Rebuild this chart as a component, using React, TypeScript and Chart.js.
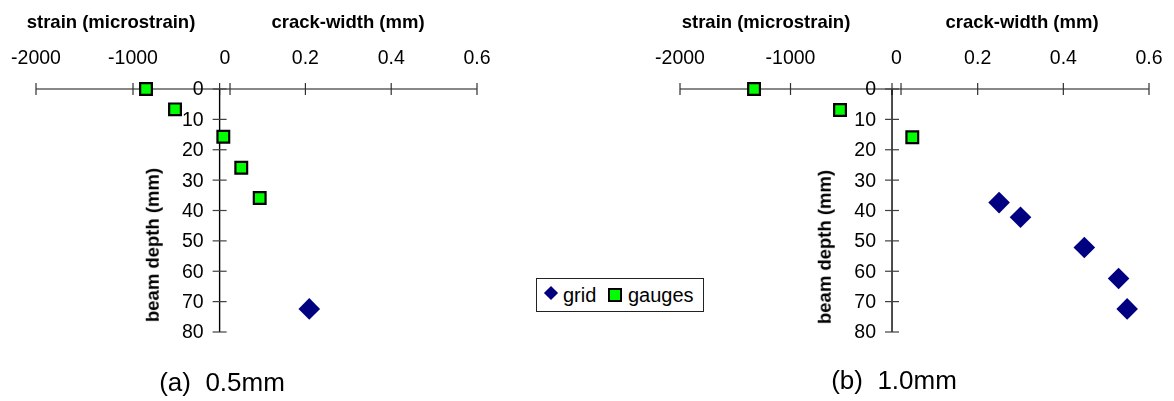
import React, { useEffect, useRef } from "react";
import { Chart, registerables } from "chart.js";

Chart.register(...registerables);

// ---- tick values ----
const depthTicks = [0, 10, 20, 30, 40, 50, 60, 70, 80];
const strainTicks = [-2000, -1000, 0];
const crackTicks = [0, 0.2, 0.4, 0.6];

// ---- panel (a) 0.5mm ----
const gaugeStrainA = [-866, -567, -69, 116, 306];
const gaugeDepthA = [0, 6.7, 15.7, 25.9, 35.9];
const gridCrackA = [0.209];
const gridDepthA = [72.4];
const strainRangeA = [-2000, 2546];
const crackRangeA = [-0.428, 0.6];

// ---- panel (b) 1.0mm ----
const gaugeStrainB = [-1330, -552, 102];
const gaugeDepthB = [0, 6.9, 15.9];
const gridCrackB = [0.25, 0.3, 0.449, 0.529, 0.549];
const gridDepthB = [37.4, 42.2, 52.2, 62.4, 72.4];
const strainRangeB = [-2000, 2244];
const crackRangeB = [-0.495, 0.6];

const depthRange = [0, 80];

const FONT = '"Liberation Sans", Arial, Helvetica, sans-serif';

const axesPlugin = {
  id: "crossAxes",
  beforeDatasetsDraw(chart: any) {
    const { ctx, chartArea } = chart;
    const sx = chart.scales.strain;
    const cx = chart.scales.crack;
    const ys = chart.scales.depth;
    const y0 = ys.getPixelForValue(0);
    const x0 = cx.getPixelForValue(0);
    const line = (a: number, b: number, c: number, d: number) => {
      ctx.beginPath();
      ctx.moveTo(a, b);
      ctx.lineTo(c, d);
      ctx.stroke();
    };
    ctx.save();
    // horizontal axis
    ctx.strokeStyle = "#606060";
    ctx.lineWidth = 1.3;
    line(chartArea.left, y0, chartArea.right, y0);
    ctx.strokeStyle = "#303030";
    ctx.lineWidth = 1.2;
    for (const v of strainTicks) {
      const p = sx.getPixelForValue(v);
      line(p, y0 - 6, p, y0 + 6);
    }
    for (const v of crackTicks) {
      const p = cx.getPixelForValue(v);
      line(p, y0 - 6, p, y0 + 6);
    }
    ctx.fillStyle = "#000";
    ctx.font = `19.5px ${FONT}`;
    ctx.textAlign = "center";
    ctx.textBaseline = "middle";
    for (const v of strainTicks) {
      if (v === 0) continue;
      ctx.fillText(String(v), sx.getPixelForValue(v), y0 - 30);
    }
    for (const v of crackTicks) {
      if (v === 0) continue;
      ctx.fillText(v.toFixed(1), cx.getPixelForValue(v), y0 - 30);
    }
    const zeroX = (sx.getPixelForValue(0) + cx.getPixelForValue(0)) / 2;
    ctx.fillText("0", zeroX, y0 - 30);

    // vertical axis
    ctx.strokeStyle = "#000";
    ctx.lineWidth = 1.4;
    line(x0, ys.getPixelForValue(depthRange[0]), x0, ys.getPixelForValue(depthRange[1]));
    ctx.strokeStyle = "#404040";
    ctx.lineWidth = 1.2;
    ctx.textAlign = "right";
    for (const v of depthTicks) {
      const p = ys.getPixelForValue(v);
      line(x0 - 7, p, x0 + 7, p);
      ctx.fillText(String(v), x0 - 16, p + 1);
    }
    ctx.restore();
  },
};

function makeConfig(
  gaugeStrain: number[],
  gaugeDepth: number[],
  gridCrack: number[],
  gridDepth: number[],
  strainRange: number[],
  crackRange: number[],
  padding: any
): any {
  return {
    type: "scatter",
    data: {
      datasets: [
        {
          label: "grid",
          data: gridCrack.map((x, i) => ({ x, y: gridDepth[i] })),
          xAxisID: "crack",
          yAxisID: "depth",
          pointStyle: "rectRot",
          pointRadius: 10.8,
          backgroundColor: "#000080",
          borderColor: "#000080",
          borderWidth: 0,
          clip: false,
        },
        {
          label: "gauges",
          data: gaugeStrain.map((x, i) => ({ x, y: gaugeDepth[i] })),
          xAxisID: "strain",
          yAxisID: "depth",
          pointStyle: "rect",
          pointRadius: 8.3,
          backgroundColor: "#00ff00",
          borderColor: "#000000",
          borderWidth: 2.2,
          clip: false,
        },
      ],
    },
    options: {
      animation: false,
      responsive: false,
      maintainAspectRatio: false,
      events: [],
      layout: { padding },
      plugins: { legend: { display: false }, tooltip: { enabled: false } },
      scales: {
        strain: { type: "linear", axis: "x", min: strainRange[0], max: strainRange[1], display: false },
        crack: { type: "linear", axis: "x", min: crackRange[0], max: crackRange[1], display: false },
        depth: { type: "linear", axis: "y", min: depthRange[0], max: depthRange[1], reverse: true, display: false },
      },
    },
    plugins: [axesPlugin],
  };
}

const textBase: React.CSSProperties = {
  position: "absolute",
  transform: "translate(-50%, -50%)",
  whiteSpace: "nowrap",
  fontFamily: FONT,
  lineHeight: 1,
  color: "#000",
};

function Label({ x, y, text, size, bold, rotate }: any) {
  return (
    <div
      style={{
        ...textBase,
        left: x,
        top: y,
        fontSize: size,
        fontWeight: bold ? "bold" : "normal",
        transform: `translate(-50%, -50%)${rotate ? " rotate(-90deg)" : ""}`,
      }}
    >
      {text}
    </div>
  );
}

export default function App() {
  const refA = useRef<HTMLCanvasElement>(null);
  const refB = useRef<HTMLCanvasElement>(null);

  useEffect(() => {
    const a = new Chart(
      refA.current as HTMLCanvasElement,
      makeConfig(gaugeStrainA, gaugeDepthA, gridCrackA, gridDepthA, strainRangeA, crackRangeA, {
        left: 36,
        right: 43,
        top: 89,
        bottom: 69,
      })
    );
    const b = new Chart(
      refB.current as HTMLCanvasElement,
      makeConfig(gaugeStrainB, gaugeDepthB, gridCrackB, gridDepthB, strainRangeB, crackRangeB, {
        left: 120,
        right: 25,
        top: 89,
        bottom: 69,
      })
    );
    return () => {
      a.destroy();
      b.destroy();
    };
  }, []);

  return (
    <div style={{ position: "absolute", left: 0, top: 0, width: 1174, height: 401, background: "#fff", overflow: "hidden" }}>
      <canvas ref={refA} width={520} height={401} style={{ position: "absolute", left: 0, top: 0, width: 520, height: 401 }} />
      <canvas ref={refB} width={614} height={401} style={{ position: "absolute", left: 560, top: 0, width: 614, height: 401 }} />

      <Label x={111} y={22} text="strain (microstrain)" size="18.5px" bold />
      <Label x={348} y={22} text="crack-width (mm)" size="18.5px" bold />
      <Label x={153} y={245} text="beam depth (mm)" size="18.5px" bold rotate />
      <Label x={222} y={382} text={"(a)\u00a0\u00a00.5mm"} size="26px" />

      <Label x={766} y={22} text="strain (microstrain)" size="18.5px" bold />
      <Label x={1022} y={22} text="crack-width (mm)" size="18.5px" bold />
      <Label x={825} y={247} text="beam depth (mm)" size="18.5px" bold rotate />
      <Label x={894} y={380} text={"(b)\u00a0\u00a01.0mm"} size="26px" />

      {/* legend */}
      <div
        style={{
          position: "absolute",
          left: 536,
          top: 278,
          width: 168,
          height: 34,
          boxSizing: "border-box",
          border: "1px solid #222",
          background: "#fff",
        }}
      >
        <div
          style={{
            position: "absolute",
            left: 9,
            top: 9,
            width: 10,
            height: 10,
            background: "#000080",
            transform: "rotate(45deg)",
          }}
        />
        <div style={{ position: "absolute", left: 26, top: 6, fontFamily: FONT, fontSize: "20px", lineHeight: 1 }}>grid</div>
        <div
          style={{
            position: "absolute",
            left: 71,
            top: 9,
            width: 14,
            height: 14,
            boxSizing: "border-box",
            background: "#00ff00",
            border: "2px solid #000",
          }}
        />
        <div style={{ position: "absolute", left: 91, top: 6, fontFamily: FONT, fontSize: "20px", lineHeight: 1 }}>gauges</div>
      </div>
    </div>
  );
}
